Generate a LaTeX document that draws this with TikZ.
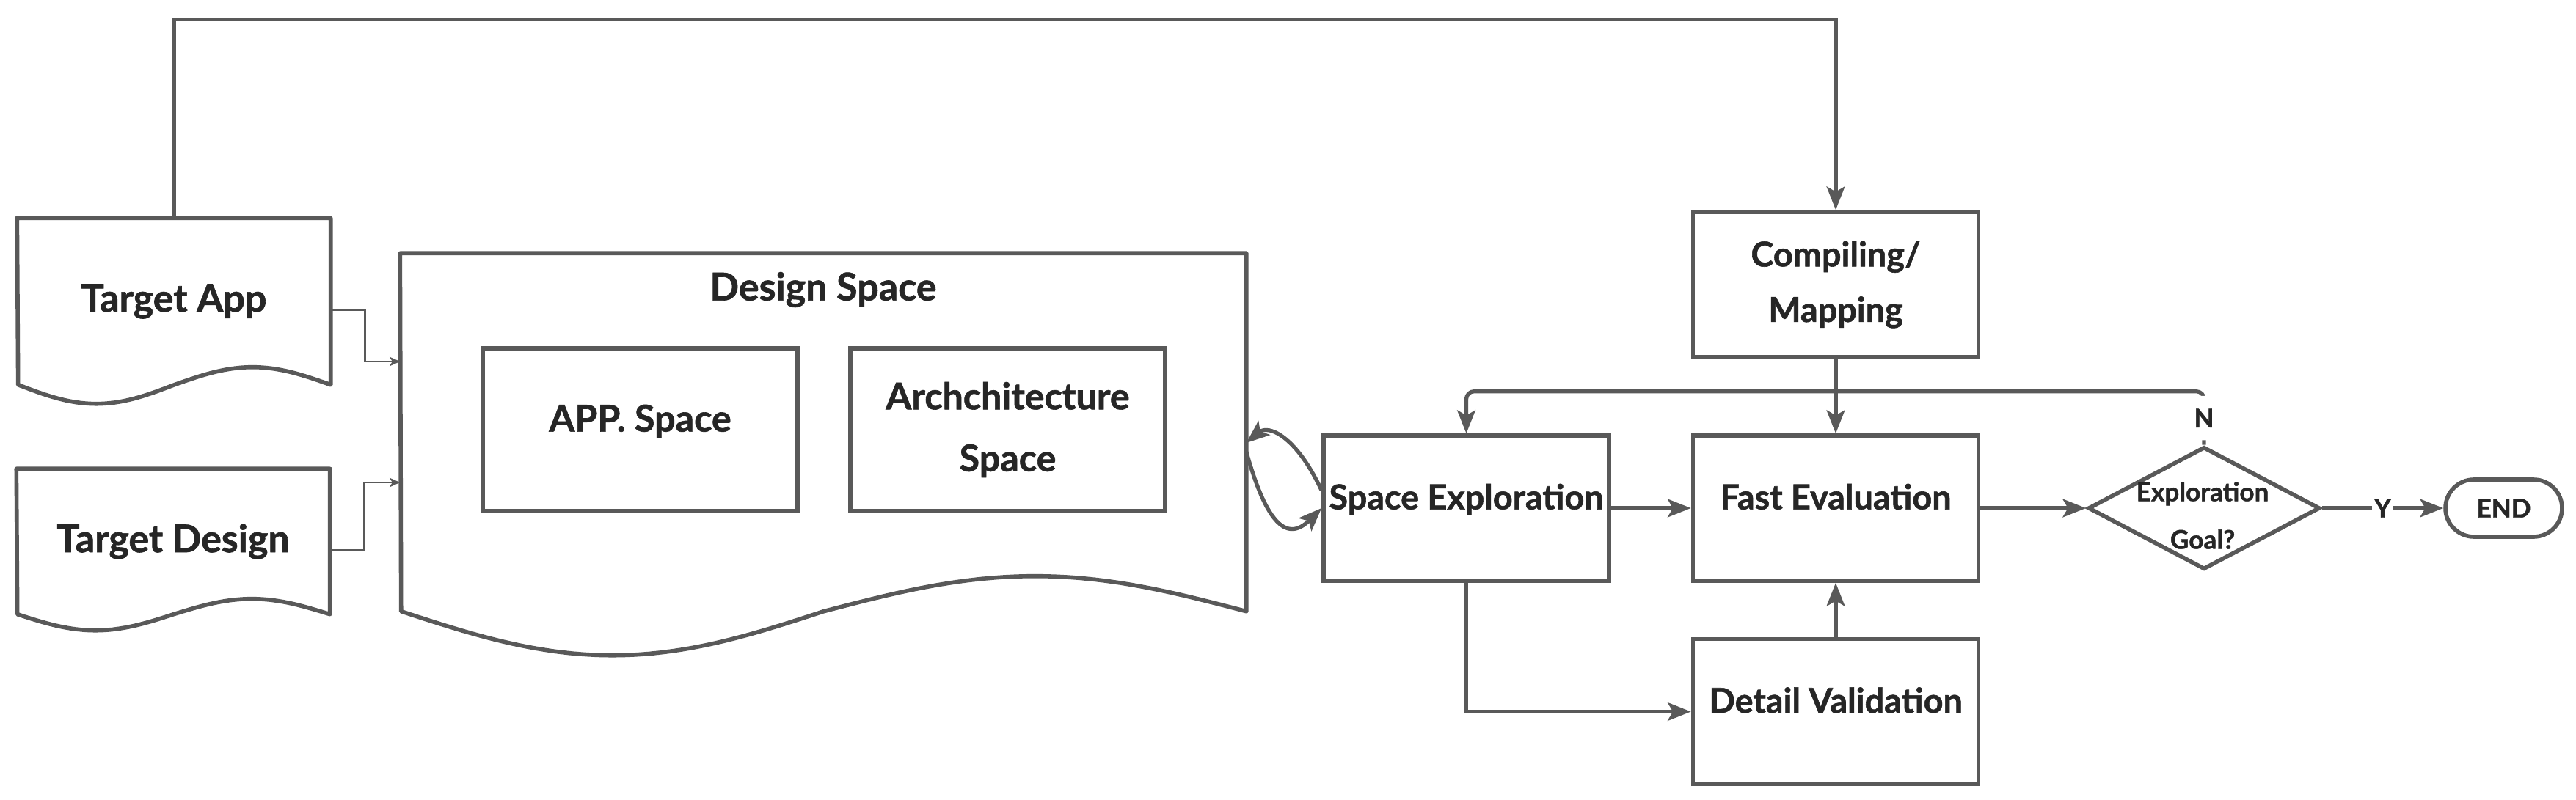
\documentclass[tikz,border=0pt]{standalone}
\usepackage{fontspec}
\setmainfont{Lato}[BoldFeatures={FakeBold=1.2}]
\usetikzlibrary{arrows.meta,shapes.geometric,calc}

\definecolor{linegray}{HTML}{595959}
\definecolor{textdark}{HTML}{262626}

\tikzset{
  outline/.style={draw=linegray, line width=1.6pt, line join=round},
  docnode/.style={minimum width=4.26cm, text=textdark, font=\fontsize{14.8}{23}\selectfont\bfseries},
  box/.style={draw=linegray, line width=1.6pt, minimum width=3.89cm, minimum height=1.98cm, inner sep=2pt,
    text=textdark, font=\fontsize{13.3}{21.5}\selectfont\bfseries},
  inbox/.style={box, minimum width=4.29cm, minimum height=2.22cm, font=\fontsize{14.3}{24}\selectfont\bfseries},
  raised/.style={text depth=9pt},
  decision/.style={diamond, draw=linegray, line width=1.6pt, inner sep=0pt,
    minimum width=3.16cm, minimum height=1.67cm},
  terminal/.style={draw=linegray, line width=1.6pt, rounded corners=0.39cm,
    minimum width=1.59cm, minimum height=0.78cm, text=textdark, font=\fontsize{10}{16}\selectfont\bfseries},
  smalltext/.style={text=textdark, font=\fontsize{10}{18.5}\selectfont\bfseries},
  lab/.style={fill=white, text=textdark, font=\fontsize{10}{12}\selectfont\bfseries},
  flow/.style={draw=linegray, line width=1.5pt, -{Stealth[length=9pt,width=7pt,inset=2pt]}},
  feed/.style={draw=linegray, line width=0.7pt, -{Stealth[length=4pt,width=3.5pt,inset=1pt]}}
}

\begin{document}
\begin{tikzpicture}
\useasboundingbox (0,0) rectangle (35.11,10.90);

% inputs
\node[docnode, minimum height=2.26cm] (app) at (2.37,6.79) {Target App};
\node[docnode, minimum height=1.97cm] (design) at (2.36,3.515) {Target Design};
\draw[outline] (app.south east) sin ++(-1.065,0.24) cos ++(-1.065,-0.24) sin ++(-1.065,-0.26) cos ++(-1.065,0.26)
  -- (app.north west) -- (app.north east) -- cycle;
\draw[outline] (design.south east) sin ++(-1.065,0.21) cos ++(-1.065,-0.21) sin ++(-1.065,-0.22) cos ++(-1.065,0.22)
  -- (design.north west) -- (design.north east) -- cycle;

% design space
\node[minimum width=11.52cm, minimum height=4.87cm] (dspace) at (11.22,5.005) {};
\draw[outline] (dspace.south east) sin ++(-2.88,0.48) cos ++(-2.88,-0.48) sin ++(-2.88,-0.60) cos ++(-2.88,0.60)
  -- (dspace.north west) -- (dspace.north east) -- cycle;
\node[docnode] (dstitle) at (11.22,6.95) {Design Space};
\node[inbox, raised] (appsp) at (8.725,5.04) {APP. Space};
\node[inbox, align=center] (archsp) at (13.735,5.04) {Archchitecture\\Space};

% flow
\node[box, raised] (explore) at (19.985,3.97) {Space Exploration};
\node[box, raised] (fasteval) at (25.02,3.97) {Fast Evaluation};
\node[box, align=center] (compile) at (25.02,7.02) {Compiling/\\Mapping};
\node[box, raised] (detail) at (25.02,1.195) {Detail Validation};
\node[decision] (goal) at (30.04,3.97) {};
\node[smalltext, align=center] (goaltext) at (30.02,3.87) {Exploration\\Goal?};
\node[terminal] (finish) at (34.125,3.97) {END};

\draw[flow] (app.north) -- ++(0,2.71) -| (compile.north);
\draw[feed] ($(app.east)+(0,-0.12)$) -- ++(0.47,0) |- ($(dspace.west)+(0,0.965)$);
\draw[feed] ($(design.east)+(0,-0.115)$) -- ++(0.47,0) |- ($(dspace.west)+(0,-0.685)$);
\draw[flow] (explore.173) .. controls +(-0.35,0.75) and +(0.3,0.25) .. ($(dspace.east)+(0,-0.145)$);
\draw[flow] ($(dspace.east)+(0,-0.265)$) .. controls +(0.25,-0.9) and +(-0.5,-0.5) .. (explore.west);
\draw[flow] (compile) -- (fasteval);
\draw[flow] (explore) -- (fasteval);
\draw[flow] (fasteval) -- (goal);
\draw[flow] (goal) -- node[lab, inner sep=1pt] {Y} (finish);
\draw[flow] (detail) -- (fasteval);
\draw[flow] (explore.south) |- (detail.west);
\draw[flow, rounded corners=3pt] (goal.north) -- node[lab, inner sep=5pt] {N} ++(0,0.73) -| (explore.north);
\end{tikzpicture}
\end{document}
